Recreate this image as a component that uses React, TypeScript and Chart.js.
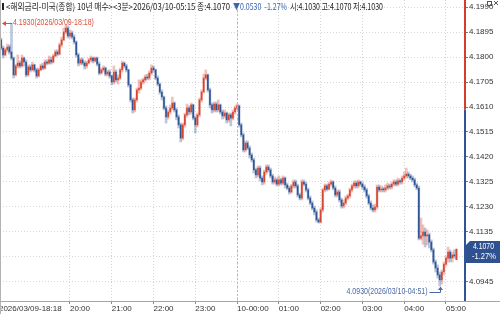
import React, { useEffect, useRef } from "react";
import { Chart, registerables } from "chart.js";
Chart.register(...registerables);

// ---- data (3-minute bars, 2026/03/09 18:18 -> 2026/03/10 05:15) ----
const OPEN = [
  4.1925,4.1865,4.1834,4.1808,4.1827,4.1838,4.1819,4.1796,4.1732,4.1766,
  4.1777,4.1766,4.1796,4.1781,4.1732,4.1762,4.1751,4.1770,4.1751,4.1728,
  4.1751,4.1766,4.1758,4.1781,4.1777,4.1789,4.1781,4.1804,4.1819,4.1811,
  4.1846,4.1865,4.1895,4.1910,4.1880,4.1891,4.1876,4.1857,4.1808,4.1777,
  4.1789,4.1777,4.1766,4.1777,4.1789,4.1796,4.1785,4.1796,4.1773,4.1739,
  4.1751,4.1758,4.1735,4.1743,4.1728,4.1705,4.1743,4.1713,4.1720,4.1751,
  4.1777,4.1766,4.1751,4.1694,4.1637,4.1599,4.1637,4.1675,4.1682,4.1705,
  4.1713,4.1724,4.1720,4.1739,4.1758,4.1751,4.1720,4.1697,4.1667,4.1648,
  4.1606,4.1572,4.1591,4.1606,4.1625,4.1599,4.1572,4.1542,4.1492,4.1542,
  4.1580,4.1606,4.1591,4.1618,4.1568,4.1542,4.1580,4.1637,4.1667,4.1720,
  4.1732,4.1675,4.1618,4.1599,4.1621,4.1599,4.1618,4.1591,4.1576,4.1587,
  4.1561,4.1580,4.1568,4.1591,4.1606,4.1614,4.1542,4.1504,4.1447,4.1473,
  4.1454,4.1428,4.1409,4.1371,4.1352,4.1378,4.1340,4.1325,4.1363,4.1382,
  4.1371,4.1348,4.1325,4.1333,4.1317,4.1333,4.1321,4.1340,4.1314,4.1302,
  4.1287,4.1310,4.1325,4.1310,4.1276,4.1264,4.1325,4.1317,4.1295,4.1264,
  4.1245,4.1226,4.1211,4.1181,4.1173,4.1219,4.1295,4.1310,4.1298,4.1317,
  4.1325,4.1302,4.1276,4.1287,4.1257,4.1234,4.1245,4.1264,4.1272,4.1295,
  4.1310,4.1321,4.1310,4.1325,4.1317,4.1306,4.1295,4.1272,4.1245,4.1226,
  4.1219,4.1230,4.1306,4.1295,4.1298,4.1295,4.1302,4.1310,4.1306,4.1317,
  4.1325,4.1317,4.1329,4.1325,4.1340,4.1348,4.1355,4.1348,4.1340,4.1333,
  4.1314,4.1302,4.1112,4.1120,4.1135,4.1120,4.1124,4.1097,4.1067,4.1021,
  4.0998,4.0972,4.0953,4.0983,4.1013,4.1036,4.1059,4.1036,4.1048,4.1030,
];
const HIGH = [
  4.1930,4.1872,4.1842,4.1834,4.1849,4.1846,4.1929,4.1800,4.1773,4.1808,
  4.1785,4.1808,4.1800,4.1789,4.1770,4.1770,4.1781,4.1773,4.1758,4.1758,
  4.1773,4.1777,4.1789,4.1789,4.1804,4.1800,4.1811,4.1827,4.1827,4.1853,
  4.1876,4.1910,4.1922,4.1918,4.1903,4.1899,4.1884,4.1861,4.1815,4.1796,
  4.1796,4.1785,4.1785,4.1796,4.1804,4.1800,4.1800,4.1800,4.1781,4.1758,
  4.1766,4.1762,4.1751,4.1751,4.1732,4.1766,4.1751,4.1732,4.1758,4.1785,
  4.1781,4.1773,4.1754,4.1697,4.1644,4.1644,4.1682,4.1713,4.1713,4.1720,
  4.1732,4.1735,4.1747,4.1770,4.1766,4.1754,4.1728,4.1701,4.1675,4.1652,
  4.1614,4.1599,4.1618,4.1648,4.1629,4.1606,4.1580,4.1549,4.1549,4.1587,
  4.1621,4.1614,4.1625,4.1621,4.1576,4.1587,4.1644,4.1675,4.1735,4.1751,
  4.1735,4.1682,4.1625,4.1629,4.1629,4.1637,4.1621,4.1599,4.1599,4.1591,
  4.1587,4.1587,4.1599,4.1614,4.1621,4.1618,4.1549,4.1511,4.1481,4.1481,
  4.1462,4.1435,4.1416,4.1378,4.1386,4.1386,4.1348,4.1371,4.1390,4.1390,
  4.1378,4.1355,4.1344,4.1340,4.1348,4.1340,4.1348,4.1344,4.1321,4.1310,
  4.1317,4.1333,4.1333,4.1317,4.1283,4.1333,4.1333,4.1325,4.1302,4.1272,
  4.1253,4.1234,4.1219,4.1188,4.1226,4.1302,4.1317,4.1317,4.1325,4.1333,
  4.1329,4.1310,4.1295,4.1295,4.1264,4.1257,4.1272,4.1279,4.1302,4.1317,
  4.1329,4.1329,4.1333,4.1329,4.1325,4.1314,4.1302,4.1279,4.1253,4.1238,
  4.1241,4.1314,4.1314,4.1310,4.1306,4.1314,4.1321,4.1317,4.1325,4.1333,
  4.1333,4.1340,4.1336,4.1348,4.1363,4.1378,4.1363,4.1355,4.1348,4.1340,
  4.1321,4.1310,4.1188,4.1162,4.1150,4.1143,4.1131,4.1105,4.1074,4.1029,
  4.1010,4.0983,4.0991,4.1021,4.1044,4.1078,4.1067,4.1059,4.1067,4.1070,
];
const LOW = [
  4.1857,4.1827,4.1796,4.1804,4.1819,4.1811,4.1789,4.1720,4.1728,4.1758,
  4.1758,4.1762,4.1766,4.1724,4.1728,4.1743,4.1747,4.1743,4.1720,4.1724,
  4.1747,4.1751,4.1754,4.1770,4.1773,4.1773,4.1777,4.1800,4.1804,4.1808,
  4.1838,4.1861,4.1887,4.1872,4.1872,4.1868,4.1849,4.1800,4.1766,4.1770,
  4.1770,4.1754,4.1758,4.1773,4.1781,4.1777,4.1781,4.1766,4.1732,4.1735,
  4.1743,4.1728,4.1728,4.1720,4.1694,4.1697,4.1705,4.1697,4.1713,4.1743,
  4.1758,4.1743,4.1686,4.1629,4.1587,4.1591,4.1629,4.1663,4.1675,4.1697,
  4.1705,4.1713,4.1713,4.1732,4.1743,4.1713,4.1690,4.1659,4.1637,4.1599,
  4.1549,4.1564,4.1583,4.1599,4.1591,4.1561,4.1530,4.1477,4.1485,4.1534,
  4.1572,4.1580,4.1583,4.1561,4.1511,4.1534,4.1572,4.1629,4.1663,4.1713,
  4.1667,4.1606,4.1587,4.1591,4.1591,4.1591,4.1583,4.1564,4.1568,4.1549,
  4.1553,4.1538,4.1561,4.1583,4.1599,4.1534,4.1496,4.1439,4.1439,4.1447,
  4.1416,4.1401,4.1359,4.1340,4.1344,4.1329,4.1314,4.1317,4.1355,4.1363,
  4.1340,4.1317,4.1317,4.1310,4.1310,4.1314,4.1314,4.1302,4.1295,4.1279,
  4.1283,4.1302,4.1302,4.1268,4.1257,4.1257,4.1310,4.1287,4.1257,4.1238,
  4.1219,4.1200,4.1173,4.1169,4.1169,4.1211,4.1287,4.1291,4.1295,4.1310,
  4.1295,4.1268,4.1268,4.1249,4.1226,4.1226,4.1238,4.1257,4.1264,4.1287,
  4.1302,4.1302,4.1302,4.1310,4.1298,4.1287,4.1264,4.1238,4.1219,4.1211,
  4.1211,4.1222,4.1287,4.1287,4.1287,4.1287,4.1295,4.1298,4.1298,4.1310,
  4.1310,4.1310,4.1317,4.1317,4.1333,4.1340,4.1340,4.1333,4.1325,4.1306,
  4.1295,4.1105,4.1105,4.1089,4.1078,4.1086,4.1074,4.1059,4.1013,4.0983,
  4.0960,4.0930,4.0937,4.0972,4.1006,4.1021,4.1021,4.1021,4.1036,4.1030,
];
const CLOSE = [
  4.1865,4.1834,4.1808,4.1827,4.1838,4.1819,4.1796,4.1732,4.1766,4.1777,
  4.1766,4.1796,4.1781,4.1732,4.1762,4.1751,4.1770,4.1751,4.1728,4.1751,
  4.1766,4.1758,4.1781,4.1777,4.1789,4.1781,4.1804,4.1819,4.1811,4.1846,
  4.1865,4.1895,4.1910,4.1880,4.1891,4.1876,4.1857,4.1808,4.1777,4.1789,
  4.1777,4.1766,4.1777,4.1789,4.1796,4.1785,4.1796,4.1773,4.1739,4.1751,
  4.1758,4.1735,4.1743,4.1728,4.1705,4.1743,4.1713,4.1720,4.1751,4.1777,
  4.1766,4.1751,4.1694,4.1637,4.1599,4.1637,4.1675,4.1682,4.1705,4.1713,
  4.1724,4.1720,4.1739,4.1758,4.1751,4.1720,4.1697,4.1667,4.1648,4.1606,
  4.1572,4.1591,4.1606,4.1625,4.1599,4.1572,4.1542,4.1492,4.1542,4.1580,
  4.1606,4.1591,4.1618,4.1568,4.1542,4.1580,4.1637,4.1667,4.1720,4.1732,
  4.1675,4.1618,4.1599,4.1621,4.1599,4.1618,4.1591,4.1576,4.1587,4.1561,
  4.1580,4.1568,4.1591,4.1606,4.1614,4.1542,4.1504,4.1447,4.1473,4.1454,
  4.1428,4.1409,4.1371,4.1352,4.1378,4.1340,4.1325,4.1363,4.1382,4.1371,
  4.1348,4.1325,4.1333,4.1317,4.1333,4.1321,4.1340,4.1314,4.1302,4.1287,
  4.1310,4.1325,4.1310,4.1276,4.1264,4.1325,4.1317,4.1295,4.1264,4.1245,
  4.1226,4.1211,4.1181,4.1173,4.1219,4.1295,4.1310,4.1298,4.1317,4.1325,
  4.1302,4.1276,4.1287,4.1257,4.1234,4.1245,4.1264,4.1272,4.1295,4.1310,
  4.1321,4.1310,4.1325,4.1317,4.1306,4.1295,4.1272,4.1245,4.1226,4.1219,
  4.1230,4.1306,4.1295,4.1298,4.1295,4.1302,4.1310,4.1306,4.1317,4.1325,
  4.1317,4.1329,4.1325,4.1340,4.1348,4.1355,4.1348,4.1340,4.1333,4.1314,
  4.1302,4.1112,4.1120,4.1135,4.1120,4.1124,4.1097,4.1067,4.1021,4.0998,
  4.0972,4.0953,4.0983,4.1013,4.1036,4.1059,4.1036,4.1048,4.1044,4.1070,
];

const X_TICK_INDEX = [0, 34, 54, 74, 94, 114, 134, 154, 174, 194, 214];
const X_TICK_LABELS = [
  "2026/03/09-18:18", "20:00", "21:00", "22:00", "23:00", "10-00:00",
  "01:00", "02:00", "03:00", "04:00", "05:00",
];
const DAY_BREAK_INDEX = 114;
const Y_TICKS = [4.0945, 4.104, 4.1135, 4.123, 4.1325, 4.142, 4.1515, 4.161, 4.1705, 4.18, 4.1895, 4.199];
const PREV_CLOSE = 4.16;

const TITLE_MAIN = "<해외금리-미국(종합) 10년 매수><3분>2026/03/10-05:15 종:4.1070";
const TITLE_CHANGE = "▼0.0530  -1.27%";
const TITLE_OHL = "시:4.1030 고:4.1070 저:4.1030";
const MAX_INDEX = 0;
const MAX_VALUE = 4.193;
const MAX_LABEL = "4.1930(2026/03/09-18:18)";
const MIN_INDEX = 211;
const MIN_VALUE = 4.093;
const MIN_LABEL = "4.0930(2026/03/10-04:51)";
const LAST_LABEL = ["4.1070", "-1.27%"];

const RED = "#d8452f";
const BLUE = "#2f5596";
const RED_WICK = "rgba(216,69,47,0.33)";
const BLUE_WICK = "rgba(47,85,150,0.33)";

function fitText(ctx: CanvasRenderingContext2D, text: string, x: number, y: number, width: number, font: string, color: string) {
  ctx.save();
  ctx.font = font;
  ctx.fillStyle = color;
  ctx.textBaseline = "middle";
  ctx.textAlign = "left";
  const w = ctx.measureText(text).width || 1;
  ctx.translate(x, y);
  ctx.scale(width / w, 1);
  ctx.fillText(text, 0, 0);
  ctx.restore();
}

const decorPlugin = {
  id: "decor",
  afterDraw(chart: any) {
    const ctx: CanvasRenderingContext2D = chart.ctx;
    const { chartArea } = chart;
    const xs = chart.scales.x;
    const ys = chart.scales.y;
    const W = chart.width;
    const H = chart.height;

    ctx.save();
    // left frame + bottom axis line
    ctx.strokeStyle = "#b4b4b4";
    ctx.lineWidth = 1;
    ctx.beginPath();
    ctx.moveTo(0.5, 0);
    ctx.lineTo(0.5, H);
    ctx.stroke();
    ctx.strokeStyle = "#a6a6a6";
    ctx.beginPath();
    ctx.moveTo(0, Math.round(chartArea.bottom) + 0.5);
    ctx.lineTo(W, Math.round(chartArea.bottom) + 0.5);
    ctx.stroke();

    // day separator
    const dx = Math.round(xs.getPixelForValue(DAY_BREAK_INDEX)) + 0.5;
    ctx.strokeStyle = "#b8b8b8";
    ctx.setLineDash([2, 2]);
    ctx.beginPath();
    ctx.moveTo(dx, chartArea.top + 10);
    ctx.lineTo(dx, chartArea.bottom);
    ctx.stroke();
    ctx.setLineDash([]);

    // right axis line: red above previous close, blue below
    const yPrev = ys.getPixelForValue(PREV_CLOSE);
    const rx = chartArea.right - 1;
    ctx.fillStyle = "#d43d2c";
    ctx.fillRect(rx, 0, 2, yPrev);
    ctx.fillStyle = "#2f5596";
    ctx.fillRect(rx, yPrev, 2, chartArea.bottom - yPrev);

    // header
    ctx.fillStyle = "#222";
    ctx.fillRect(2, 3, 2, 7);
    const hf = '9px "Noto Sans CJK KR", sans-serif';
    fitText(ctx, TITLE_MAIN, 6, 6.5, 224, hf, "#222");
    fitText(ctx, TITLE_CHANGE, 233, 6.5, 54, hf, "#3d64ad");
    fitText(ctx, TITLE_OHL, 290, 6.5, 93, hf, "#222");

    // max annotation
    const mx = xs.getPixelForValue(MAX_INDEX);
    const my = ys.getPixelForValue(MAX_VALUE);
    ctx.strokeStyle = "#d9503e";
    ctx.fillStyle = "#d9503e";
    ctx.lineWidth = 1;
    ctx.beginPath();
    ctx.moveTo(mx + 4, Math.round(my) + 0.5);
    ctx.lineTo(mx + 13, Math.round(my) + 0.5);
    ctx.stroke();
    ctx.beginPath();
    ctx.moveTo(mx + 3, Math.round(my) + 0.5);
    ctx.lineTo(mx + 7, Math.round(my) - 2);
    ctx.lineTo(mx + 7, Math.round(my) + 3);
    ctx.closePath();
    ctx.fill();
    fitText(ctx, MAX_LABEL, mx + 14, my, 81, "9px Arial, sans-serif", "#d9503e");

    // min annotation
    const nx = Math.round(xs.getPixelForValue(MIN_INDEX)) + 0.5;
    const ny = ys.getPixelForValue(MIN_VALUE);
    ctx.strokeStyle = "#4a69a6";
    ctx.fillStyle = "#4a69a6";
    ctx.beginPath();
    ctx.moveTo(nx - 11, Math.round(ny) + 6.5);
    ctx.lineTo(nx, Math.round(ny) + 6.5);
    ctx.lineTo(nx, ny + 2);
    ctx.stroke();
    ctx.beginPath();
    ctx.moveTo(nx, ny + 0.5);
    ctx.lineTo(nx - 2.5, ny + 4);
    ctx.lineTo(nx + 2.5, ny + 4);
    ctx.closePath();
    ctx.fill();
    fitText(ctx, MIN_LABEL, nx - 94, ny + 6, 81, "9px Arial, sans-serif", "#4a69a6");

    // last price box
    const ly = ys.getPixelForValue(CLOSE[CLOSE.length - 1]);
    ctx.fillStyle = "#2f5190";
    ctx.beginPath();
    ctx.moveTo(chartArea.right + 1, ly - 4);
    ctx.lineTo(chartArea.right + 5, ly - 8);
    ctx.lineTo(W, ly - 8);
    ctx.lineTo(W, ly + 14);
    ctx.lineTo(chartArea.right + 1, ly + 14);
    ctx.closePath();
    ctx.fill();
    fitText(ctx, LAST_LABEL[0], chartArea.right + 8, ly - 2.5, 21, "9px Arial, sans-serif", "#ffffff");
    fitText(ctx, LAST_LABEL[1], chartArea.right + 7, ly + 7, 24, "9px Arial, sans-serif", "#ffffff");

    // window buttons
    ctx.strokeStyle = "#555";
    ctx.lineWidth = 1;
    ctx.strokeRect(487.5, 1.5, 4, 4);
    ctx.beginPath();
    ctx.moveTo(494, 1);
    ctx.lineTo(498, 5);
    ctx.moveTo(498, 1);
    ctx.lineTo(494, 5);
    ctx.stroke();
    ctx.restore();
  },
};

export default function App() {
  const ref = useRef<HTMLCanvasElement | null>(null);
  useEffect(() => {
    if (!ref.current) return;
    const up = CLOSE.map((c, i) => c >= OPEN[i]);
    const chart = new Chart(ref.current, {
      type: "bar",
      data: {
        datasets: [
          {
            data: CLOSE.map((c, i) => ({ x: i, y: [OPEN[i], c] })) as any,
            backgroundColor: up.map((u) => (u ? RED : BLUE)),
            barThickness: 1,
            grouped: false,
            minBarLength: 1,
          } as any,
          {
            data: CLOSE.map((_, i) => ({ x: i, y: [LOW[i], HIGH[i]] })) as any,
            backgroundColor: up.map((u) => (u ? RED_WICK : BLUE_WICK)),
            barThickness: 2,
            grouped: false,
          } as any,
        ],
      },
      options: {
        responsive: false,
        animation: false,
        devicePixelRatio: 1,
        layout: { padding: 0 },
        plugins: { legend: { display: false }, tooltip: { enabled: false } },
        scales: {
          x: {
            type: "linear",
            min: 0.5,
            max: 223.1,
            offset: false,
            afterBuildTicks: (s: any) => {
              s.ticks = X_TICK_INDEX.map((v) => ({ value: v }));
            },
            afterFit: (s: any) => {
              s.height = 13;
              s.paddingLeft = 0;
              s.paddingRight = 0;
              s.paddingTop = 0;
              s.paddingBottom = 0;
            },
            ticks: {
              autoSkip: false,
              maxRotation: 0,
              align: "start",
              padding: 0,
              color: "#333",
              font: { family: "Arial, 'Liberation Sans', sans-serif", size: 8 },
              callback: (v: any) => X_TICK_LABELS[X_TICK_INDEX.indexOf(Number(v))] ?? "",
            },
            grid: {
              offset: false,
              color: "#d6d6d6",
              lineWidth: 1,
              drawTicks: true,
              tickLength: 3,
              tickColor: "#888",
            },
            border: { display: false, dash: [1, 2] },
          } as any,
          y: {
            type: "linear",
            position: "right",
            min: 4.08728,
            max: 4.20166,
            afterBuildTicks: (s: any) => {
              s.ticks = Y_TICKS.map((v) => ({ value: v }));
            },
            afterFit: (s: any) => {
              s.width = 35;
              s.paddingTop = 0;
              s.paddingBottom = 0;
            },
            ticks: {
              padding: 1,
              color: "#333",
              font: { family: "Arial, 'Liberation Sans', sans-serif", size: 8 },
              callback: (v: any) => Number(v).toFixed(4),
            },
            grid: {
              color: "#d6d6d6",
              lineWidth: 1,
              drawTicks: true,
              tickLength: 3,
              tickColor: "#777",
            },
            border: { display: false, dash: [1, 2] },
          } as any,
        },
      },
      plugins: [decorPlugin],
    });
    return () => chart.destroy();
  }, []);
  return (
    <div style={{ position: "fixed", left: 0, top: 0, width: 500, height: 314, background: "#fff" }}>
      <canvas ref={ref} width={500} height={314} style={{ display: "block" }} />
    </div>
  );
}
